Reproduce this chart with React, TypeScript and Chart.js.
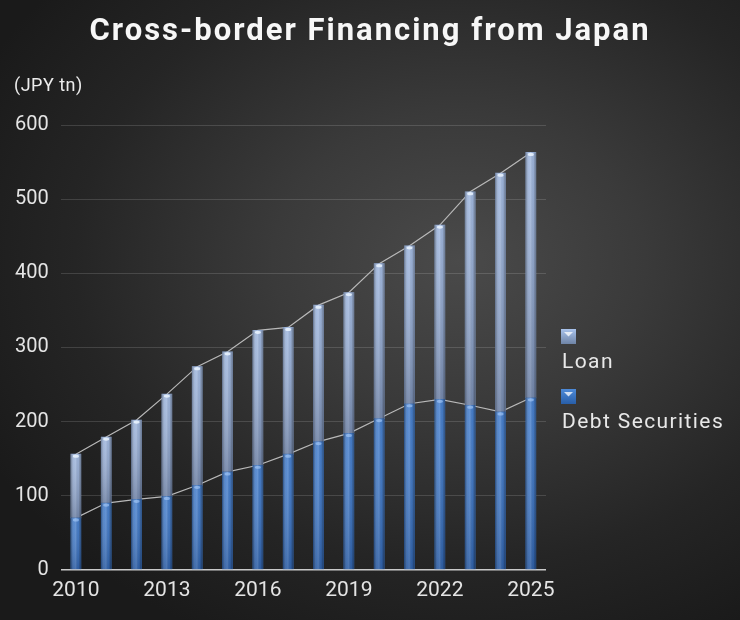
import React, { useEffect, useRef } from "react";
import { Chart, registerables } from "chart.js";

Chart.register(...registerables);

const years = ["2010", "2011", "2012", "2013", "2014", "2015", "2016", "2017", "2018", "2019", "2020", "2021", "2022", "2023", "2024", "2025"];
const debtSecurities = [70, 90, 95, 99, 114, 132, 141, 156, 173, 184, 204, 224, 230, 222, 213, 232];
const loan = [86, 89, 107, 138, 160, 162, 182, 171, 184, 190, 209, 213, 235, 288, 322, 331];
const yMin = 0;
const yMax = 600;
const yStep = 100;
const xLabelEvery = 3;

const titleText = "Cross-border Financing from Japan";
const unitText = "(JPY tn)";

const FONT = "Roboto, 'Liberation Sans', sans-serif";

const barShade = {
  id: "barShade",
  afterDatasetsDraw(chart: any) {
    const ctx = chart.ctx as CanvasRenderingContext2D;
    chart.data.datasets.forEach((ds: any, i: number) => {
      const meta = chart.getDatasetMeta(i);
      if (meta.type !== "bar" || meta.hidden) return;
      const isLoan = ds.label === "Loan";
      meta.data.forEach((el: any) => {
        const { x, y, base, width } = el.getProps(["x", "y", "base", "width"], true);
        const left = x - width / 2;
        const top = Math.min(y, base);
        const h = Math.abs(base - y);
        ctx.save();
        const g = ctx.createLinearGradient(left, 0, left + width, 0);
        g.addColorStop(0, "rgba(0,0,0,0.38)");
        g.addColorStop(0.3, "rgba(255,255,255,0.10)");
        g.addColorStop(0.48, "rgba(255,255,255,0.18)");
        g.addColorStop(0.75, "rgba(0,0,0,0.04)");
        g.addColorStop(1, "rgba(0,0,0,0.42)");
        ctx.fillStyle = g;
        ctx.fillRect(left, top, width, h);
        const v = ctx.createLinearGradient(0, top, 0, top + h);
        if (isLoan) {
          v.addColorStop(0, "rgba(255,255,255,0.14)");
          v.addColorStop(1, "rgba(50,50,60,0.28)");
        } else {
          v.addColorStop(0, "rgba(255,255,255,0.06)");
          v.addColorStop(1, "rgba(0,0,20,0.18)");
        }
        ctx.fillStyle = v;
        ctx.fillRect(left, top, width, h);
        ctx.fillStyle = isLoan ? "rgba(235,244,255,0.85)" : "rgba(170,205,250,0.6)";
        ctx.beginPath();
        ctx.ellipse(x, top + 2, Math.max(width / 2 - 2, 1), 1.6, 0, 0, Math.PI * 2);
        ctx.fill();
        ctx.restore();
      });
    });
  },
};

const sideLegend = {
  id: "sideLegend",
  afterDraw(chart: any) {
    const ctx = chart.ctx as CanvasRenderingContext2D;
    const area = chart.chartArea;
    const x0 = area.right + 15;
    const bars = chart.data.datasets.filter((d: any) => d.type === "bar" || !d.type).slice().reverse();
    bars.forEach((ds: any, k: number) => {
      const boxTop = area.top + 204 + k * 60;
      const size = 15;
      ctx.save();
      const g = ctx.createLinearGradient(0, boxTop, 0, boxTop + size);
      g.addColorStop(0, ds.label === "Loan" ? "#a9c3ec" : "#4d8ad8");
      g.addColorStop(1, ds.label === "Loan" ? "#6f84a6" : "#285ea8");
      ctx.fillStyle = g;
      ctx.fillRect(x0, boxTop, size, size);
      ctx.fillStyle = "rgba(255,255,255,0.75)";
      ctx.beginPath();
      ctx.moveTo(x0 + 3, boxTop + 3);
      ctx.lineTo(x0 + size - 3, boxTop + 3);
      ctx.lineTo(x0 + size / 2, boxTop + 7.5);
      ctx.closePath();
      ctx.fill();
      ctx.fillStyle = "#e8e8e8";
      ctx.font = `21px ${FONT}`;
      (ctx as any).letterSpacing = "1.4px";
      ctx.textAlign = "left";
      ctx.textBaseline = "middle";
      ctx.fillText(ds.label, x0 + 1, boxTop + 34);
      (ctx as any).letterSpacing = "0px";
      ctx.restore();
    });
  },
};

export default function App() {
  const canvasRef = useRef<HTMLCanvasElement | null>(null);

  useEffect(() => {
    document.body.style.margin = "0";
    const canvas = canvasRef.current;
    if (!canvas) return;
    const chart = new Chart(canvas, {
      type: "bar",
      data: {
        labels: years,
        datasets: [
          {
            type: "bar",
            label: "Debt Securities",
            data: debtSecurities,
            backgroundColor: "#3a76c8",
            stack: "bars",
            order: 0,
            barThickness: 10,
          } as any,
          {
            type: "bar",
            label: "Loan",
            data: loan,
            backgroundColor: "#8ea9d6",
            stack: "bars",
            order: 0,
            barThickness: 10,
          } as any,
          {
            type: "line",
            label: "debtLine",
            data: debtSecurities,
            borderColor: "#b8b8b8",
            borderWidth: 1.2,
            pointRadius: 0,
            fill: false,
            stack: "lines",
            order: 1,
            tension: 0,
          } as any,
          {
            type: "line",
            label: "totalLine",
            data: loan,
            borderColor: "#b8b8b8",
            borderWidth: 1.2,
            pointRadius: 0,
            fill: false,
            stack: "lines",
            order: 1,
            tension: 0,
          } as any,
        ],
      },
      options: {
        animation: false,
        responsive: false,
        maintainAspectRatio: false,
        layout: { padding: { top: 125, right: 194, bottom: 9, left: 3 } },
        plugins: {
          legend: { display: false },
          title: { display: false },
          tooltip: { enabled: false },
        },
        scales: {
          x: {
            stacked: true,
            offset: true,
            grid: { display: false, drawTicks: false },
            border: { display: false },
            ticks: {
              autoSkip: false,
              maxRotation: 0,
              padding: 8,
              color: "#e4e4e4",
              font: { family: FONT, size: 21 },
              callback: (_v: any, i: number) => (i % xLabelEvery === 0 ? years[i] : ""),
            },
          },
          y: {
            stacked: true,
            min: yMin,
            max: yMax,
            border: { display: false },
            grid: {
              drawTicks: false,
              color: (c: any) => (c.tick && c.tick.value === 0 ? "#c9c9c9" : "rgba(255,255,255,0.14)"),
              lineWidth: (c: any) => (c.tick && c.tick.value === 0 ? 1.6 : 1),
            },
            ticks: {
              stepSize: yStep,
              padding: 12,
              color: "#e4e4e4",
              font: { family: FONT, size: 20 },
            },
          },
        },
      },
      plugins: [barShade, sideLegend],
    });
    return () => chart.destroy();
  }, []);

  return (
    <div
      style={{
        position: "fixed",
        left: 0,
        top: 0,
        width: 740,
        height: 620,
        overflow: "hidden",
        background:
          "radial-gradient(ellipse 72% 68% at 62% 42%, #4a4a4a 0%, #3a3a3a 35%, #252525 72%, #1a1a1a 100%)",
      }}
    >
      <div
        style={{
          position: "absolute",
          left: 0,
          top: 14,
          width: 740,
          textAlign: "center",
          fontFamily: FONT,
          fontWeight: 700,
          fontSize: 31,
          lineHeight: 1,
          letterSpacing: 2,
          color: "#f7f7f7",
        }}
      >
        {titleText}
      </div>
      <div
        style={{
          position: "absolute",
          left: 14,
          top: 76,
          fontFamily: FONT,
          fontSize: 18,
          lineHeight: 1,
          letterSpacing: 0.5,
          color: "#ececec",
        }}
      >
        {unitText}
      </div>
      <canvas ref={canvasRef} width={740} height={620} style={{ position: "absolute", left: 0, top: 0 }} />
    </div>
  );
}
